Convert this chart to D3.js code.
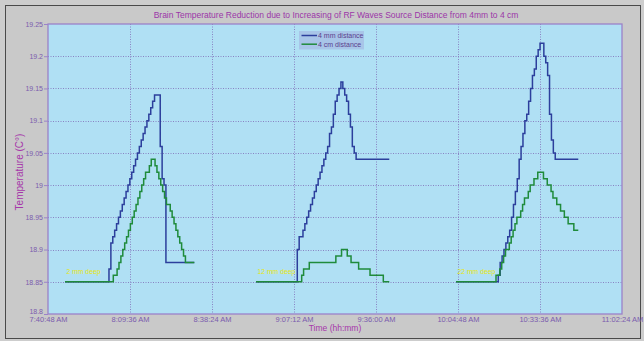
<!DOCTYPE html>
<html>
<head>
<meta charset="utf-8">
<script src="https://cdn.jsdelivr.net/npm/d3@7"></script>
<style>
  body { margin: 0; background: #cdcdcd; }
  text { font-family: "Liberation Sans", Arial, sans-serif; }
</style>
</head>
<body>
<script>
// tick labels
const xTickLabels = ["7:40:48 AM", "8:09:36 AM", "8:38:24 AM", "9:07:12 AM", "9:36:00 AM", "10:04:48 AM", "10:33:36 AM", "11:02:24 AM"];
const yTicks = [18.8, 18.85, 18.9, 18.95, 19, 19.05, 19.1, 19.15, 19.2, 19.25];

const seriesNames = ["4 mm distance", "4 cm distance"];
const depthLabels = ["2 mm deep", "12 mm deep", "22 mm deep"];

// each run: flat start, first logged sample, end of trace (samples every 40 s)
const sampleSec = 40;
const baseline = 18.85;
const leadTimes = ["7:46:46", "8:53:51", "10:04:06"];
const endTimes = ["8:32:11", "9:40:40", "10:47:03"];
const blueStart = ["8:02:13", "9:08:21", "10:18:57"];
const greenStart = ["8:03:44", "9:09:54", "10:18:09"];

const blue1 = [18.87, 18.91, 18.92, 18.93, 18.94, 18.95, 18.96, 18.97, 18.98, 18.99, 19.00, 19.01, 19.02, 19.03, 19.04, 19.05, 19.06, 19.07, 19.08, 19.09, 19.10, 19.11, 19.12, 19.13, 19.14, 19.14, 19.14, 19.06, 19.01, 19.00, 18.88];
const green1 = [18.86, 18.86, 18.87, 18.88, 18.89, 18.90, 18.91, 18.92, 18.93, 18.94, 18.95, 18.96, 18.97, 18.98, 18.99, 19.00, 19.01, 19.02, 19.02, 19.03, 19.04, 19.04, 19.03, 19.02, 19.01, 19.00, 18.99, 18.98, 18.97, 18.97, 18.96, 18.95, 18.94, 18.93, 18.92, 18.91, 18.90, 18.89, 18.88];
const blue2 = [18.90, 18.92, 18.92, 18.93, 18.94, 18.95, 18.96, 18.97, 18.98, 18.99, 19.00, 19.01, 19.02, 19.03, 19.04, 19.05, 19.06, 19.08, 19.09, 19.11, 19.13, 19.14, 19.15, 19.16, 19.15, 19.14, 19.13, 19.11, 19.09, 19.06, 19.05, 19.04];
const green2 = [18.86, 18.87, 18.87, 18.87, 18.88, 18.88, 18.88, 18.88, 18.88, 18.88, 18.88, 18.88, 18.88, 18.88, 18.88, 18.88, 18.88, 18.88, 18.89, 18.89, 18.89, 18.90, 18.90, 18.90, 18.89, 18.89, 18.88, 18.88, 18.88, 18.88, 18.87, 18.87, 18.87, 18.87, 18.87, 18.87, 18.86, 18.86, 18.86, 18.86, 18.86, 18.86, 18.86, 18.85];
const blue3 = [18.86, 18.88, 18.89, 18.90, 18.91, 18.92, 18.93, 18.95, 18.97, 18.99, 19.01, 19.04, 19.06, 19.08, 19.10, 19.11, 19.13, 19.15, 19.17, 19.18, 19.20, 19.21, 19.22, 19.22, 19.20, 19.19, 19.17, 19.11, 19.07, 19.05, 19.04];
const green3 = [18.86, 18.86, 18.87, 18.88, 18.89, 18.90, 18.90, 18.91, 18.92, 18.93, 18.94, 18.95, 18.95, 18.96, 18.97, 18.98, 18.98, 18.99, 19.00, 19.00, 19.01, 19.01, 19.02, 19.02, 19.02, 19.01, 19.01, 19.00, 19.00, 18.99, 18.98, 18.98, 18.97, 18.97, 18.96, 18.96, 18.95, 18.95, 18.94, 18.94, 18.94, 18.93, 18.93];

const blueRuns = [blue1, blue2, blue3];
const greenRuns = [green1, green2, green3];

const width = 644, height = 341;
const margin = { top: 24, right: 22, bottom: 27, left: 48 };

const parseClock = d3.timeParse("%H:%M:%S");
const parseTick = d3.timeParse("%I:%M:%S %p");
const xTicks = xTickLabels.map(parseTick);

function buildRun(lead, start, vals, end) {
    const t0 = parseClock(start);
    const pts = [{ t: parseClock(lead), v: baseline }];
    vals.forEach((v, i) => pts.push({ t: new Date(+t0 + i * sampleSec * 1000), v: v }));
    pts.push({ t: parseClock(end), v: vals[vals.length - 1] });
    return pts;
}

const svg = d3.select("body").append("svg")
    .attr("width", width)
    .attr("height", height);

// outer frame
svg.append("rect")
    .attr("x", 5.5).attr("y", 5.5)
    .attr("width", 635).attr("height", 333)
    .attr("fill", "#c9c9c9")
    .attr("stroke", "#4a4a4a");

const x = d3.scaleTime()
    .domain([xTicks[0], xTicks[xTicks.length - 1]])
    .range([margin.left, width - margin.right]);

const y = d3.scaleLinear()
    .domain([yTicks[0], yTicks[yTicks.length - 1]])
    .range([height - margin.bottom, margin.top]);

// plot background
svg.append("rect")
    .attr("x", x.range()[0]).attr("y", y.range()[1])
    .attr("width", x.range()[1] - x.range()[0])
    .attr("height", y.range()[0] - y.range()[1])
    .attr("fill", "#b0e0f4");

// grid
const grid = svg.append("g")
    .attr("stroke", "#8578bd")
    .attr("stroke-width", 0.9)
    .attr("stroke-dasharray", "1,1.5");

grid.selectAll(".vg")
    .data(xTicks.slice(1, -1))
    .enter().append("line")
    .attr("x1", d => Math.round(x(d)) + 0.5).attr("x2", d => Math.round(x(d)) + 0.5)
    .attr("y1", y.range()[1]).attr("y2", y.range()[0]);

grid.selectAll(".hg")
    .data(yTicks.slice(1, -1))
    .enter().append("line")
    .attr("y1", d => Math.round(y(d)) + 0.5).attr("y2", d => Math.round(y(d)) + 0.5)
    .attr("x1", x.range()[0]).attr("x2", x.range()[1]);

// axes
const yAxis = svg.append("g")
    .attr("transform", `translate(${margin.left},0)`)
    .call(d3.axisLeft(y).tickValues(yTicks).tickSize(4).tickPadding(1).tickFormat(d => String(d)));
yAxis.select(".domain").remove();
yAxis.selectAll("line").attr("stroke", "#9b82c9");
yAxis.selectAll("text")
    .attr("fill", "#7b5cae")
    .style("font-size", "7px");
yAxis.selectAll(".tick").filter(d => d === yTicks[0]).select("text").attr("dy", "-0.05em");

const xAxis = svg.append("g")
    .attr("transform", `translate(0,${height - margin.bottom})`)
    .call(d3.axisBottom(x).tickValues(xTicks).tickSize(0).tickPadding(3).tickFormat(d3.timeFormat("%-I:%M:%S %p")));
xAxis.select(".domain").remove();
xAxis.selectAll("text")
    .attr("fill", "#7b5cae")
    .style("font-size", "7.5px");

// plot frame
svg.append("rect")
    .attr("x", x.range()[0]).attr("y", y.range()[1])
    .attr("width", x.range()[1] - x.range()[0])
    .attr("height", y.range()[0] - y.range()[1])
    .attr("fill", "none")
    .attr("stroke", "#9b82c9")
    .attr("stroke-width", 1.3);

// lines
const line = d3.line()
    .x(d => x(d.t))
    .y(d => y(d.v))
    .curve(d3.curveStepAfter);

const colors = ["#2c3f9c", "#1f8b3b"];

blueRuns.forEach((vals, i) => {
    svg.append("path")
        .datum(buildRun(leadTimes[i], blueStart[i], vals, endTimes[i]))
        .attr("d", line)
        .attr("fill", "none")
        .attr("stroke", colors[0])
        .attr("stroke-width", 1.5);
});
greenRuns.forEach((vals, i) => {
    svg.append("path")
        .datum(buildRun(leadTimes[i], greenStart[i], vals, endTimes[i]))
        .attr("d", line)
        .attr("fill", "none")
        .attr("stroke", colors[1])
        .attr("stroke-width", 1.5);
});

// depth notes
svg.selectAll(".depth")
    .data(depthLabels)
    .enter().append("text")
    .attr("x", (d, i) => x(parseClock(leadTimes[i])) + 1.5)
    .attr("y", y(18.866))
    .attr("dy", "0.35em")
    .attr("fill", "#e6e612")
    .style("font-size", "6.8px")
    .text(d => d);

// legend
const legend = svg.append("g").attr("transform", "translate(299,31)");
legend.append("rect")
    .attr("width", 65).attr("height", 18.5)
    .attr("fill", "#a8c5e8");
seriesNames.forEach((name, i) => {
    legend.append("line")
        .attr("x1", 2.5).attr("x2", 18)
        .attr("y1", 4.5 + i * 8.7).attr("y2", 4.5 + i * 8.7)
        .attr("stroke", colors[i])
        .attr("stroke-width", 1.5);
    legend.append("text")
        .attr("x", 19).attr("y", 4.5 + i * 8.7)
        .attr("dy", "0.35em")
        .attr("fill", "#5b3f8e")
        .style("font-size", "7px")
        .text(name);
});

// titles
svg.append("text")
    .attr("x", 336).attr("y", 18)
    .attr("text-anchor", "middle")
    .attr("fill", "#9b36a8")
    .style("font-size", "8.5px")
    .text("Brain Temperature Reduction due to Increasing of RF Waves Source Distance from 4mm to 4 cm");

svg.append("text")
    .attr("x", 335).attr("y", 331)
    .attr("text-anchor", "middle")
    .attr("fill", "#a636aa")
    .style("font-size", "8.5px")
    .text("Time (hh:mm)");

svg.append("text")
    .attr("transform", "translate(23,172) rotate(-90)")
    .attr("text-anchor", "middle")
    .attr("fill", "#a636aa")
    .style("font-size", "10px")
    .text("Temperature (C°)");
</script>
</body>
</html>
